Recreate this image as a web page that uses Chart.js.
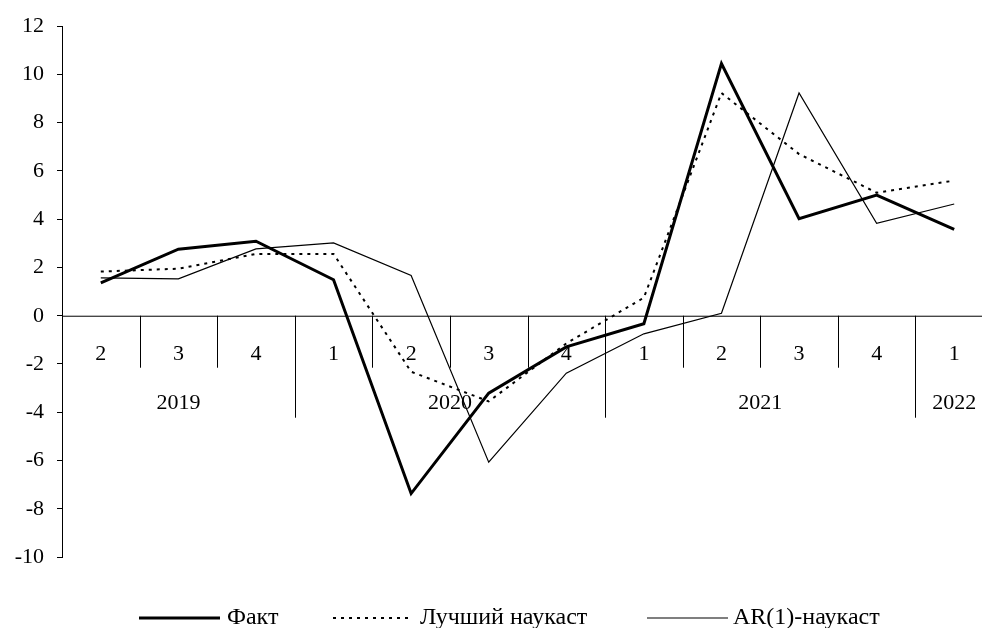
<!DOCTYPE html>
<html>
<head>
<meta charset="utf-8">
<script src="https://cdn.jsdelivr.net/npm/chart.js@4.4.0/dist/chart.umd.min.js"></script>
<style>
    html, body { margin: 0; padding: 0; background: #fff; overflow: hidden; }
    canvas { display: block; }
</style>
</head>
<body>
<canvas id="chart" width="1000" height="628"></canvas>
<script>
// Quarter labels, first year of the series, and the three series
const quarters = ['2', '3', '4', '1', '2', '3', '4', '1', '2', '3', '4', '1'];
const firstYear = 2019;
const fact = [1.36, 2.76, 3.09, 1.49, -7.37, -3.21, -1.29, -0.33, 10.45, 4.02, 5.0, 3.58];
const bestNowcast = [1.83, 1.95, 2.56, 2.56, -2.32, -3.55, -1.15, 0.75, 9.23, 6.7, 5.1, 5.6];
const arNowcast = [1.57, 1.53, 2.77, 3.02, 1.67, -6.07, -2.38, -0.75, 0.1, 9.23, 3.83, 4.63];
const yTicks = { min: -10, max: 12, step: 2 };

const FONT = 'Liberation Serif, Times New Roman, serif';

// Build year groups from the quarter list (a new year starts at quarter 1)
function yearGroups() {
    const groups = [];
    let year = firstYear;
    quarters.forEach((q, i) => {
        if (i > 0 && q === '1') year++;
        const last = groups[groups.length - 1];
        if (last && last.year === year) last.end = i;
        else groups.push({ year: year, start: i, end: i });
    });
    return groups;
}

// Draws the category axis at y = 0 with quarter and year rows
const quarterAxis = {
    id: 'quarterAxis',
    beforeDatasetsDraw(chart) {
        const { ctx, chartArea } = chart;
        const x = chart.scales.x;
        const y0 = chart.scales.y.getPixelForValue(0);
        const step = x.getPixelForValue(1) - x.getPixelForValue(0);

        ctx.save();
        ctx.strokeStyle = '#000';
        ctx.lineWidth = 1;
        ctx.beginPath();
        ctx.moveTo(chartArea.left, y0 + 0.5);
        ctx.lineTo(chartArea.right, y0 + 0.5);
        ctx.stroke();

        for (let i = 1; i <= quarters.length; i++) {
            const bx = Math.round(x.getPixelForValue(i) - step / 2) + 0.5;
            const major = i === quarters.length || quarters[i] === '1';
            ctx.beginPath();
            ctx.moveTo(bx, y0);
            ctx.lineTo(bx, y0 + (major ? 102 : 52));
            ctx.stroke();
        }

        ctx.fillStyle = '#000';
        ctx.font = '22px ' + FONT;
        ctx.textAlign = 'center';
        ctx.textBaseline = 'middle';
        quarters.forEach((q, i) => {
            ctx.fillText(q, x.getPixelForValue(i), y0 + 38);
        });

        yearGroups().forEach(g => {
            const left = Math.max(chartArea.left, x.getPixelForValue(g.start) - step / 2);
            const right = x.getPixelForValue(g.end) + step / 2;
            ctx.fillText(String(g.year), (left + right) / 2, y0 + 87);
        });
        ctx.restore();
    }
};

// Legend drawn by hand to follow the reference spacing
const lineLegend = {
    id: 'lineLegend',
    afterDraw(chart) {
        const { ctx } = chart;
        const items = [
            { x0: 139, x1: 220, tx: 227 },
            { x0: 333, x1: 408, tx: 420 },
            { x0: 647, x1: 728, tx: 733 }
        ];
        const ly = 618;
        ctx.save();
        ctx.font = '24px ' + FONT;
        ctx.fillStyle = '#000';
        ctx.textBaseline = 'middle';
        ctx.textAlign = 'left';
        chart.data.datasets.forEach((ds, i) => {
            const it = items[i];
            ctx.strokeStyle = ds.borderColor;
            ctx.lineWidth = ds.borderWidth;
            ctx.setLineDash(ds.borderDash || []);
            ctx.beginPath();
            ctx.moveTo(it.x0, ly);
            ctx.lineTo(it.x1, ly);
            ctx.stroke();
            ctx.fillText(ds.label, it.tx, ly);
        });
        ctx.restore();
    }
};

new Chart(document.getElementById('chart'), {
    type: 'line',
    data: {
        labels: quarters,
        datasets: [
            {
                label: 'Факт',
                data: fact,
                borderColor: '#000',
                borderWidth: 3,
                pointRadius: 0,
                tension: 0
            },
            {
                label: 'Лучший наукаст',
                data: bestNowcast,
                borderColor: '#000',
                borderWidth: 2,
                borderDash: [3, 5],
                pointRadius: 0,
                tension: 0
            },
            {
                label: 'AR(1)-наукаст',
                data: arNowcast,
                borderColor: '#000',
                borderWidth: 1.2,
                pointRadius: 0,
                tension: 0
            }
        ]
    },
    options: {
        responsive: false,
        devicePixelRatio: 1,
        animation: false,
        layout: { padding: { left: 0, top: 24, right: 7, bottom: 71 } },
        plugins: {
            legend: { display: false },
            tooltip: { enabled: false }
        },
        scales: {
            x: {
                type: 'category',
                display: false,
                offset: true
            },
            y: {
                min: yTicks.min,
                max: yTicks.max,
                afterFit(scale) { scale.width = 62; },
                ticks: {
                    stepSize: yTicks.step,
                    color: '#000',
                    padding: 13,
                    font: { family: FONT, size: 22 }
                },
                grid: {
                    drawOnChartArea: false,
                    tickLength: 5,
                    color: '#000'
                },
                border: { color: '#000', width: 1 }
            }
        }
    },
    plugins: [quarterAxis, lineLegend]
});
</script>
</body>
</html>
